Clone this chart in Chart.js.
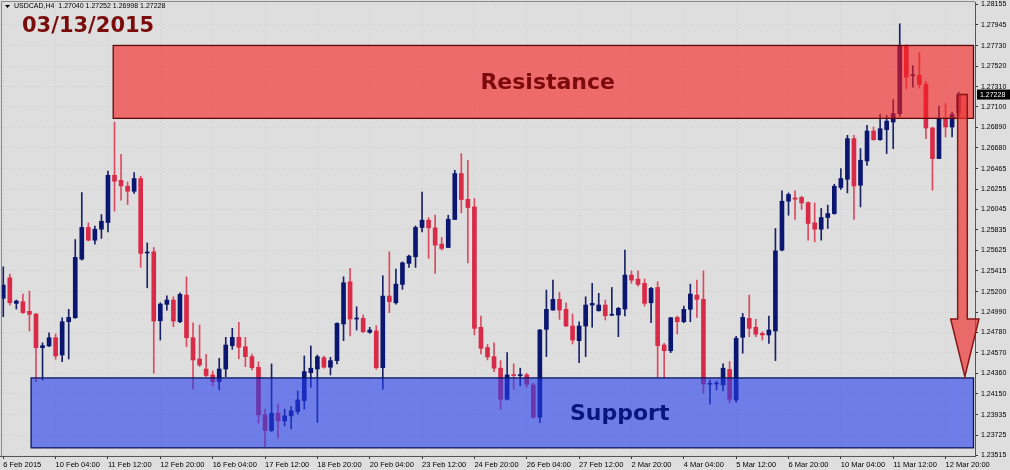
<!DOCTYPE html>
<html lang="en">
<head>
    <meta charset="UTF-8">
    <title>USDCAD H4</title>
    <script src="https://cdn.jsdelivr.net/npm/chart.js"></script>
    <style>
        html, body {
            margin: 0;
            padding: 0;
            background-color: #dedede;
        }
    </style>
</head>
<body>
    <canvas id="chart" width="1010" height="470"></canvas>

    <script>
        // H4 candles (open / high / low / close)
        const opens = [
            1.25132, 1.25343, 1.25080, 1.25097, 1.24998, 1.24970, 1.24624, 1.24642, 1.24727, 1.24549,
            1.24891, 1.24932, 1.25535, 1.25861, 1.25730, 1.25843, 1.25912, 1.26398, 1.26346, 1.26285,
            1.26233, 1.26364, 1.25598, 1.25610, 1.24901, 1.25070, 1.25114, 1.24891, 1.25165, 1.24727,
            1.24508, 1.24405, 1.24344, 1.24275, 1.24405, 1.24645, 1.24731, 1.24634, 1.24532, 1.24423,
            1.23933, 1.23772, 1.23950, 1.23871, 1.23923, 1.23967, 1.24080, 1.24367, 1.24405, 1.24521,
            1.24423, 1.24491, 1.24868, 1.25302, 1.24919, 1.24926, 1.24782, 1.24796, 1.24419, 1.25155,
            1.25086, 1.25275, 1.25491, 1.25559, 1.25861, 1.25936, 1.25857, 1.25689, 1.25655, 1.25943,
            1.26415, 1.26151, 1.26072, 1.24834, 1.24626, 1.24532, 1.24413, 1.24094, 1.24344, 1.24337,
            1.24344, 1.24241, 1.23909, 1.24813, 1.25011, 1.25121, 1.25019, 1.24847, 1.24696, 1.24847,
            1.25063, 1.25004, 1.25063, 1.24958, 1.24960, 1.25022, 1.25371, 1.25330, 1.25286, 1.25086,
            1.25244, 1.24652, 1.24593, 1.24936, 1.24891, 1.25019, 1.25165, 1.25121, 1.24248, 1.24251,
            1.24241, 1.24400, 1.24087, 1.24731, 1.24926, 1.24834, 1.24772, 1.24755, 1.24796, 1.25628,
            1.26131, 1.26165, 1.26169, 1.26117, 1.25908, 1.25843, 1.25963, 1.26004, 1.26272, 1.26357,
            1.26775, 1.26295, 1.26545, 1.26853, 1.26764, 1.26867, 1.26945, 1.27031, 1.27733, 1.27423,
            1.27425, 1.27332, 1.26884, 1.26569, 1.26973, 1.26894, 1.27040
        ];
        const highs = [
            1.25456, 1.25381, 1.25114, 1.25176, 1.25206, 1.24977, 1.24675, 1.24778, 1.24765, 1.24932,
            1.25019, 1.25737, 1.26220, 1.25908, 1.25874, 1.25994, 1.26442, 1.26945, 1.26613, 1.26329,
            1.26425, 1.26387, 1.25702, 1.25655, 1.25086, 1.25158, 1.25148, 1.25189, 1.25353, 1.24881,
            1.24857, 1.24556, 1.24385, 1.24515, 1.24731, 1.24823, 1.24885, 1.24731, 1.24559, 1.24480,
            1.23992, 1.24457, 1.24046, 1.23992, 1.24018, 1.24179, 1.24539, 1.24642, 1.24549, 1.24539,
            1.24526, 1.24881, 1.25353, 1.25440, 1.25045, 1.24960, 1.24834, 1.24850, 1.25364, 1.25610,
            1.25432, 1.25507, 1.25576, 1.25877, 1.26226, 1.25963, 1.25987, 1.25758, 1.25987, 1.26449,
            1.26621, 1.26552, 1.26158, 1.24950, 1.24657, 1.24675, 1.24491, 1.24573, 1.24457, 1.24413,
            1.24361, 1.24259, 1.24813, 1.25217, 1.25319, 1.25193, 1.25086, 1.24970, 1.24891, 1.25148,
            1.25286, 1.25183, 1.25114, 1.25244, 1.25039, 1.25628, 1.25415, 1.25415, 1.25330, 1.25244,
            1.25302, 1.24669, 1.24936, 1.24950, 1.25052, 1.25278, 1.25319, 1.25415, 1.24292, 1.24282,
            1.24457, 1.24482, 1.24741, 1.24977, 1.25165, 1.24916, 1.24788, 1.24950, 1.25850, 1.26237,
            1.26216, 1.26237, 1.26182, 1.26124, 1.26113, 1.26056, 1.26090, 1.26305, 1.26467, 1.26809,
            1.26809, 1.26672, 1.26911, 1.26894, 1.27024, 1.27014, 1.27175, 1.27956, 1.27740, 1.27527,
            1.27658, 1.27363, 1.26894, 1.27110, 1.27134, 1.27048, 1.27252
        ];
        const lows = [
            1.24943, 1.25063, 1.25022, 1.24977, 1.24796, 1.24275, 1.24292, 1.24634, 1.24505, 1.24480,
            1.24508, 1.24926, 1.25525, 1.25723, 1.25689, 1.25748, 1.25815, 1.26028, 1.26141, 1.26097,
            1.26210, 1.25450, 1.25240, 1.24361, 1.24703, 1.25011, 1.24840, 1.24881, 1.24634, 1.24197,
            1.24429, 1.24326, 1.24231, 1.24190, 1.24326, 1.24608, 1.24508, 1.24429, 1.24395, 1.23848,
            1.23607, 1.23761, 1.23694, 1.23820, 1.23789, 1.23940, 1.23992, 1.24217, 1.23854, 1.24413,
            1.24344, 1.24457, 1.24696, 1.24744, 1.24806, 1.24778, 1.24772, 1.24402, 1.24197, 1.24984,
            1.25073, 1.25224, 1.25450, 1.25450, 1.25815, 1.25542, 1.25388, 1.25628, 1.25655, 1.25943,
            1.26011, 1.25497, 1.24755, 1.24559, 1.24498, 1.24378, 1.23992, 1.24087, 1.24197, 1.24231,
            1.24217, 1.23899, 1.23854, 1.24532, 1.25011, 1.24916, 1.24840, 1.24662, 1.24470, 1.24532,
            1.24834, 1.25001, 1.24909, 1.24953, 1.24737, 1.24950, 1.25286, 1.25258, 1.25052, 1.24881,
            1.24320, 1.24310, 1.24573, 1.24765, 1.24881, 1.24891, 1.24936, 1.24156, 1.24046, 1.24190,
            1.24179, 1.24056, 1.24061, 1.24567, 1.24737, 1.24737, 1.24703, 1.24669, 1.24491, 1.25620,
            1.25987, 1.25943, 1.26046, 1.25730, 1.25713, 1.25730, 1.25850, 1.25997, 1.26251, 1.26216,
            1.25943, 1.26072, 1.26500, 1.26757, 1.26757, 1.26621, 1.26672, 1.27004, 1.27288, 1.27305,
            1.27294, 1.26775, 1.26244, 1.26569, 1.26791, 1.26791, 1.26998
        ];
        const closes = [
            1.25268, 1.25086, 1.25104, 1.24984, 1.24967, 1.24624, 1.24645, 1.24727, 1.24539, 1.24891,
            1.24936, 1.25553, 1.25861, 1.25730, 1.25843, 1.25925, 1.26398, 1.26336, 1.26288, 1.26233,
            1.26364, 1.25594, 1.25602, 1.24898, 1.25073, 1.25114, 1.24898, 1.25173, 1.24727, 1.24498,
            1.24446, 1.24337, 1.24275, 1.24405, 1.24652, 1.24731, 1.24628, 1.24532, 1.24419, 1.23933,
            1.23772, 1.23950, 1.23871, 1.23923, 1.23974, 1.24087, 1.24378, 1.24413, 1.24532, 1.24423,
            1.24491, 1.24875, 1.25292, 1.24919, 1.24922, 1.24788, 1.24806, 1.24419, 1.25155, 1.25097,
            1.25278, 1.25497, 1.25566, 1.25861, 1.25936, 1.25857, 1.25679, 1.25645, 1.25946, 1.26415,
            1.26148, 1.26066, 1.24823, 1.24618, 1.24529, 1.24413, 1.24094, 1.24344, 1.24337, 1.24344,
            1.24248, 1.23909, 1.24806, 1.25019, 1.25121, 1.25011, 1.24847, 1.24703, 1.24847, 1.25063,
            1.25080, 1.25063, 1.24953, 1.24960, 1.25029, 1.25371, 1.25319, 1.25275, 1.25080, 1.25234,
            1.24645, 1.24593, 1.24932, 1.24891, 1.25019, 1.25176, 1.25121, 1.24251, 1.24252, 1.24255,
            1.24413, 1.24094, 1.24721, 1.24936, 1.24823, 1.24762, 1.24755, 1.24806, 1.25620, 1.26131,
            1.26200, 1.26151, 1.26113, 1.25902, 1.25843, 1.25963, 1.26004, 1.26285, 1.26364, 1.26775,
            1.26288, 1.26552, 1.26853, 1.26764, 1.26877, 1.26955, 1.27031, 1.27733, 1.27407, 1.27425,
            1.27332, 1.26884, 1.26569, 1.26973, 1.26894, 1.27024, 1.27228
        ];

        // one label every 8 bars
        const xTickLabels = [
            '6 Feb 2015', '10 Feb 04:00', '11 Feb 12:00', '12 Feb 20:00', '16 Feb 04:00',
            '17 Feb 12:00', '18 Feb 20:00', '20 Feb 04:00', '23 Feb 12:00', '24 Feb 20:00',
            '26 Feb 04:00', '27 Feb 12:00', '2 Mar 20:00', '4 Mar 04:00', '5 Mar 12:00',
            '6 Mar 20:00', '10 Mar 04:00', '11 Mar 12:00', '12 Mar 20:00'
        ];
        const barsPerLabel = 8;
        const yTicks = [
            1.23515, 1.23725, 1.23935, 1.24150, 1.24360, 1.24570, 1.24780, 1.24990, 1.25200, 1.25415,
            1.25625, 1.25835, 1.26045, 1.26255, 1.26465, 1.26680, 1.26890, 1.27100, 1.27310, 1.27520,
            1.27730, 1.27945, 1.28155
        ];

        // zones and arrow (bar index / price)
        const resistance = { from: 16.8, top: 1.27733, bottom: 1.26983, label: 'Resistance', labelAt: 83.2 };
        const support = { from: 4.25, top: 1.24313, bottom: 1.23594, label: 'Support', labelAt: 94.2 };
        const arrowTarget = 1.24326;

        const chartTitle = 'USDCAD,H4  1.27040 1.27252 1.26998 1.27228';
        const dateLabel = '03/13/2015';

        const BULL = '#0b1670';
        const BEAR = '#d92b47';
        const isBull = opens.map((o, i) => closes[i] >= o);

        const bodies = opens.map((o, i) => ({ x: i, y: [o, closes[i]] }));
        const wicks = lows.map((l, i) => ({ x: i, y: [l, highs[i]] }));

        const lastClose = closes[closes.length - 1];

        const overlays = {
            id: 'overlays',
            beforeDraw(chart) {
                const ctx = chart.ctx;
                ctx.save();
                ctx.fillStyle = '#dedede';
                ctx.fillRect(0, 0, chart.width, chart.height);
                ctx.restore();
            },
            afterDatasetsDraw(chart) {
                const { ctx, chartArea: a, scales: { x, y } } = chart;
                ctx.save();

                const zones = [
                    [resistance, 'rgba(247, 30, 30, 0.6)', '#5e0808', '#7d0a0a'],
                    [support, 'rgba(35, 60, 239, 0.6)', '#0a1660', '#0a1680']
                ];
                zones.forEach(([z, fill, stroke, textColor]) => {
                    const left = x.getPixelForValue(z.from);
                    const top = y.getPixelForValue(z.top);
                    const bottom = y.getPixelForValue(z.bottom);
                    const right = a.right - 1.5;
                    ctx.fillStyle = fill;
                    ctx.fillRect(left, top, right - left, bottom - top);
                    ctx.strokeStyle = stroke;
                    ctx.lineWidth = 1.3;
                    ctx.strokeRect(left, top, right - left, bottom - top);
                    ctx.fillStyle = textColor;
                    ctx.font = 'bold 22px "DejaVu Sans"';
                    ctx.textAlign = 'center';
                    ctx.textBaseline = 'middle';
                    ctx.fillText(z.label, x.getPixelForValue(z.labelAt), (top + bottom) / 2 + 1);
                });

                // down arrow from the last close
                const sl = x.getPixelForValue(145.85);
                const sr = x.getPixelForValue(147.32);
                const hl = x.getPixelForValue(144.78);
                const hr = x.getPixelForValue(149.1);
                const tx = x.getPixelForValue(146.95);
                const top = y.getPixelForValue(lastClose);
                const neck = y.getPixelForValue(1.24919);
                const tip = y.getPixelForValue(arrowTarget);
                ctx.beginPath();
                ctx.moveTo(sl, top);
                ctx.lineTo(sr, top);
                ctx.lineTo(sr, neck);
                ctx.lineTo(hr, neck);
                ctx.lineTo(tx, tip);
                ctx.lineTo(hl, neck);
                ctx.lineTo(sl, neck);
                ctx.closePath();
                ctx.fillStyle = 'rgba(240, 55, 55, 0.7)';
                ctx.fill();
                ctx.strokeStyle = '#8a1616';
                ctx.lineWidth = 1.5;
                ctx.stroke();

                ctx.restore();
            },
            afterDraw(chart) {
                const { ctx, chartArea: a, scales: { y } } = chart;
                ctx.save();

                // frame, top and left
                ctx.strokeStyle = '#8a8a8a';
                ctx.lineWidth = 1;
                ctx.beginPath();
                ctx.moveTo(1.5, a.bottom);
                ctx.lineTo(1.5, 1.5);
                ctx.lineTo(a.right, 1.5);
                ctx.stroke();

                // symbol line
                ctx.fillStyle = '#000';
                ctx.beginPath();
                ctx.moveTo(5, 5);
                ctx.lineTo(10, 5);
                ctx.lineTo(7.5, 8);
                ctx.closePath();
                ctx.fill();
                ctx.font = '7px "Liberation Sans", Arial';
                ctx.textAlign = 'left';
                ctx.textBaseline = 'middle';
                ctx.fillText(chartTitle, 14, 6.5);

                // date
                ctx.fillStyle = '#7a0c0c';
                ctx.font = 'bold 21px "DejaVu Sans"';
                ctx.textBaseline = 'alphabetic';
                ctx.fillText(dateLabel, 22, 32);

                // current price tag
                const py = y.getPixelForValue(lastClose);
                ctx.fillStyle = '#000';
                ctx.fillRect(a.right + 2, py - 5, 33, 10);
                ctx.fillStyle = '#fff';
                ctx.font = '7px "Liberation Sans", Arial';
                ctx.textBaseline = 'middle';
                ctx.fillText(lastClose.toFixed(5), a.right + 5, py + 0.5);

                ctx.restore();
            }
        };

        const gridStyle = {
            color: 'rgba(130, 130, 130, 0.15)',
            tickColor: '#333',
            tickLength: 3,
            tickBorderDash: [],
            offset: false
        };

        new Chart(document.getElementById('chart'), {
            type: 'bar',
            data: {
                datasets: [
                    {
                        data: bodies,
                        backgroundColor: isBull.map(b => b ? BULL : BEAR),
                        barThickness: 4,
                        minBarLength: 1,
                        grouped: false
                    },
                    {
                        data: wicks,
                        backgroundColor: isBull.map(b => b ? '#1a2266' : '#dc4a60'),
                        barThickness: 1,
                        grouped: false
                    }
                ]
            },
            options: {
                responsive: false,
                animation: false,
                layout: { padding: { top: 2, left: 0, right: 0, bottom: 0 } },
                plugins: {
                    legend: { display: false },
                    tooltip: { enabled: false }
                },
                scales: {
                    x: {
                        type: 'linear',
                        offset: false,
                        min: -0.5,
                        max: 148.5,
                        afterBuildTicks: s => {
                            s.ticks = xTickLabels.map((_, i) => ({ value: i * barsPerLabel }));
                        },
                        afterFit: s => {
                            s.height = 14;
                            s.paddingLeft = 0;
                            s.paddingRight = 0;
                        },
                        ticks: {
                            align: 'start',
                            padding: 1,
                            maxRotation: 0,
                            autoSkip: false,
                            color: '#000',
                            font: { family: '"Liberation Sans", Arial', size: 7.5 },
                            callback: (v, i) => xTickLabels[i]
                        },
                        grid: gridStyle,
                        border: { color: '#555', width: 1, dash: [1, 2] }
                    },
                    y: {
                        position: 'right',
                        min: 1.2351,
                        max: 1.2818,
                        afterBuildTicks: s => {
                            s.ticks = yTicks.map(v => ({ value: v }));
                        },
                        afterFit: s => {
                            s.width = 35;
                            s.paddingTop = 0;
                            s.paddingBottom = 0;
                        },
                        ticks: {
                            padding: 3,
                            autoSkip: false,
                            color: '#000',
                            font: { family: '"Liberation Sans", Arial', size: 7 },
                            callback: v => v.toFixed(5)
                        },
                        grid: gridStyle,
                        border: { color: '#555', width: 1, dash: [1, 2] }
                    }
                }
            },
            plugins: [overlays]
        });
    </script>
</body>
</html>
